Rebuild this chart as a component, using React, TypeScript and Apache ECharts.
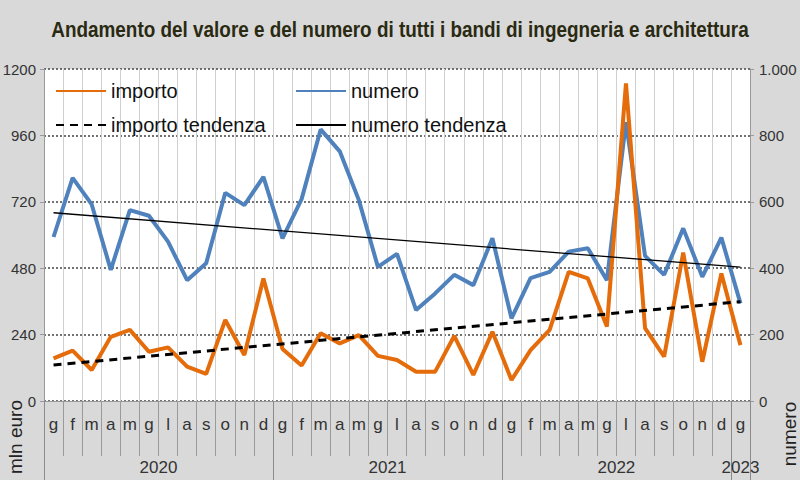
import React, { useEffect, useRef } from "react";
import * as echarts from "echarts";

const TITLE = "Andamento del valore e del numero di tutti i bandi di ingegneria e architettura";
const monthInitials = ["g", "f", "m", "a", "m", "g", "l", "a", "s", "o", "n", "d"];
const years = ["2020", "2021", "2022", "2023"];
const monthsPerYear = [12, 12, 12, 1];

// mln euro (left axis)
const importo = [
  154, 182, 112, 232, 257, 178, 194, 124, 98, 293, 166, 443,
  188, 128, 245, 208, 238, 163, 148, 106, 106, 235, 94, 250,
  76, 184, 257, 467, 443, 269, 1148, 263, 160, 536, 142, 461,
  202,
];
// numero (right axis)
const numero = [
  494, 672, 592, 395, 575, 558, 480, 364, 415, 627, 590, 675,
  490, 608, 818, 752, 605, 404, 443, 274, 324, 380, 349, 490,
  249, 370, 389, 450, 460, 364, 840, 437, 380, 520, 374, 492,
  294,
];
// trend lines: endpoints (month index, value)
const trendIndex = [0, 36];
const importoTrend = [130, 359];
const numeroTrend = [567, 403];

const leftTicks = { min: 0, max: 1200, interval: 240 };
const rightTicks = { min: 0, max: 1000, interval: 200 };

const FONT = "'Liberation Sans',Arial,sans-serif";

export default function App() {
  const ref = useRef<HTMLDivElement>(null);
  useEffect(() => {
    if (!ref.current) return;
    const chart = echarts.init(ref.current, undefined, { renderer: "svg" });

    const monthCats: string[] = [];
    const yearCats: string[] = [];
    const yearShift: boolean[] = [];
    const yearStarts: number[] = [];
    years.forEach((y, yi) => {
      const n = monthsPerYear[yi];
      const start = monthCats.length;
      yearStarts.push(start);
      for (let k = 0; k < n; k++) {
        monthCats.push(monthInitials[k]);
        yearCats.push("");
        yearShift.push(false);
      }
      const labelIdx = n % 2 === 0 ? start + n / 2 - 1 : start + Math.floor(n / 2);
      yearCats[labelIdx] = y;
      yearShift[labelIdx] = n % 2 === 0;
    });

    const pair = (vals: number[]) => trendIndex.map((x, i) => [x, vals[i]]);
    const fmtIt = (v: number) => String(v).replace(/\B(?=(\d{3})+(?!\d))/g, ".");

    const legendText = { fontFamily: FONT, fontSize: 20, color: "#111" };
    const mkLegend = (name: string, left: number, top: number) => ({
      data: [name],
      left,
      top,
      itemWidth: 50,
      itemHeight: 14,
      itemGap: 5,
      textStyle: legendText,
      itemStyle: { color: "rgba(0,0,0,0)", borderWidth: 0 },
      selectedMode: false,
    });

    const option = {
      animation: false,
      backgroundColor: "#d9d9d9",
      grid: {
        left: 44,
        right: 50,
        top: 69,
        bottom: 79,
        show: true,
        backgroundColor: "#ffffff",
        borderWidth: 0,
        outerBoundsMode: "none",
        containLabel: false,
      },
      legend: [
        mkLegend("importo", 50, 76),
        mkLegend("numero", 290, 76),
        mkLegend("importo tendenza", 50, 110),
        mkLegend("numero tendenza", 290, 110),
      ],
      xAxis: [
        {
          type: "category",
          data: monthCats,
          position: "bottom",
          axisLine: { show: true, lineStyle: { color: "#999", width: 1 } },
          axisTick: { show: true, interval: 0, length: 55, lineStyle: { color: "#9a9a9a" } },
          axisLabel: { interval: 0, margin: 15, fontSize: 17, color: "#333", fontFamily: FONT },
          splitLine: { show: true, interval: 0, lineStyle: { color: "#d0d0d0", width: 1 } },
        },
        {
          type: "category",
          data: yearCats,
          position: "bottom",
          axisLine: { show: false },
          axisTick: {
            show: true,
            interval: (i: number) => yearStarts.includes(i),
            length: 79,
            lineStyle: { color: "#8a8a8a" },
          },
          axisLabel: {
            interval: 0,
            margin: 58,
            formatter: (v: string, i: number) => (v ? (yearShift[i] ? `{s|${v}}` : `{n|${v}}`) : ""),
            rich: {
              s: { padding: [0, 0, 0, 19], fontSize: 17, color: "#333", fontFamily: FONT },
              n: { fontSize: 17, color: "#333", fontFamily: FONT },
            },
          },
          splitLine: { show: false },
        },
      ],
      yAxis: [
        {
          type: "value",
          ...leftTicks,
          position: "left",
          axisLine: { show: true, lineStyle: { color: "#999" } },
          axisTick: { show: true, length: 4, lineStyle: { color: "#999" } },
          axisLabel: { fontSize: 15, color: "#333", fontFamily: FONT, margin: 8, formatter: (v: number) => String(v) },
          splitLine: { show: true, lineStyle: { color: "#444", type: [2, 2], width: 1.5 } },
        },
        {
          type: "value",
          ...rightTicks,
          position: "right",
          axisLine: { show: true, lineStyle: { color: "#999" } },
          axisTick: { show: true, length: 4, lineStyle: { color: "#999" } },
          axisLabel: { fontSize: 15, color: "#333", fontFamily: FONT, margin: 9, formatter: fmtIt },
          splitLine: { show: false },
        },
      ],
      series: [
        {
          name: "importo",
          type: "line",
          data: importo,
          yAxisIndex: 0,
          symbol: "none",
          color: "#E46C0A",
          lineStyle: { width: 4, color: "#E46C0A" },
          z: 4,
        },
        {
          name: "numero",
          type: "line",
          data: numero,
          yAxisIndex: 1,
          symbol: "none",
          color: "#4F81BD",
          lineStyle: { width: 4, color: "#4F81BD" },
          z: 3,
        },
        {
          name: "importo tendenza",
          type: "line",
          data: pair(importoTrend),
          yAxisIndex: 0,
          symbol: "none",
          color: "#000",
          lineStyle: { width: 3, color: "#000", type: [8, 6] },
          z: 5,
        },
        {
          name: "numero tendenza",
          type: "line",
          data: pair(numeroTrend),
          yAxisIndex: 1,
          symbol: "none",
          color: "#000",
          lineStyle: { width: 1.3, color: "#000" },
          z: 5,
        },
      ],
      graphic: [
        {
          type: "text",
          x: 400,
          y: 29,
          scaleX: 0.86,
          style: {
            text: TITLE,
            fontSize: 22,
            fontWeight: "bold",
            fill: "#2a2a12",
            align: "center",
            verticalAlign: "middle",
            fontFamily: FONT,
          },
        },
        {
          type: "text",
          x: 15,
          y: 437,
          rotation: Math.PI / 2,
          style: { text: "mln euro", fontSize: 19, fill: "#222", align: "center", verticalAlign: "middle", fontFamily: FONT },
        },
        {
          type: "text",
          x: 789,
          y: 434,
          rotation: Math.PI / 2,
          style: { text: "numero", fontSize: 19, fill: "#222", align: "center", verticalAlign: "middle", fontFamily: FONT },
        },
      ],
    };
    chart.setOption(option as any);
    return () => chart.dispose();
  }, []);
  return <div ref={ref} style={{ position: "fixed", left: 0, top: 0, width: 800, height: 480 }} />;
}
